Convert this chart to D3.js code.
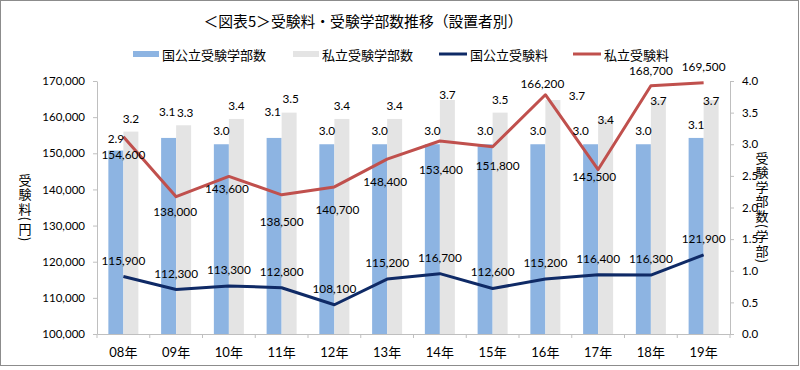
<!DOCTYPE html>
<html>
<head>
<meta charset="utf-8">
<script src="https://cdn.jsdelivr.net/npm/d3@7"></script>
<style>
  body { margin: 0; background: #fff; }
  text { font-family: Lato, "Noto Sans CJK JP", sans-serif; fill: #000; }
  .jp { font-family: "Noto Sans CJK JP", sans-serif; }
</style>
</head>
<body>
<div id="chart"></div>
<script>
// data
var years = ["08年", "09年", "10年", "11年", "12年", "13年", "14年", "15年", "16年", "17年", "18年", "19年"];
var pubCount = [2.9, 3.1, 3.0, 3.1, 3.0, 3.0, 3.0, 3.0, 3.0, 3.0, 3.0, 3.1];
var privCount = [3.2, 3.3, 3.4, 3.5, 3.4, 3.4, 3.7, 3.5, 3.7, 3.4, 3.7, 3.7];
var pubFee = [115900, 112300, 113300, 112800, 108100, 115200, 116700, 112600, 115200, 116400, 116300, 121900];
var privFee = [154600, 138000, 143600, 138500, 140700, 148400, 153400, 151800, 166200, 145500, 168700, 169500];
var feeTicks = [100000, 110000, 120000, 130000, 140000, 150000, 160000, 170000];
var countTicks = [0, 0.5, 1.0, 1.5, 2.0, 2.5, 3.0, 3.5, 4.0];

// label nudges (px), the way they sit in the original
var pubCountDy = [-12, -26, -14, -26, -14, -14, -14, -14, -14, -14, -14, -13];
var pubCountDx = [0, -1.5, 0, -1.5, 0, 0, 0, 0, 0, -10, 0, 0];
var privCountDy = [-13, -13, -13, -14, -13, -13, -5, -13, -4, 1, 1, 1];
var privCountDx = [0, 1.5, 0, 1.5, 0, 0, 0, 0, 24, 0, 0, 0];
var privFeeDy = [18, 15, 12, 27, 23, 22, 29, 19, -11, 7, -15, -16];
var privFeeDx = [0, -1, -2, 0, 3, -2, 1, 5, -3, -4, 0, 0];
var pubFeeDy = -16.5;

var W = 800, H = 370;
var margin = { top: 81, right: 70, bottom: 36, left: 97 },
    width = W - margin.left - margin.right,
    height = H - margin.top - margin.bottom;

var svg = d3.select("#chart").append("svg")
  .attr("width", W).attr("height", H);

// outer frame
svg.append("rect")
  .attr("x", 0.5).attr("y", 0.5).attr("width", 798).attr("height", 365)
  .attr("fill", "#fff").attr("stroke", "#8c8c8c");

svg.append("text").attr("class", "jp")
  .attr("x", 363).attr("y", 20).attr("text-anchor", "middle")
  .attr("dominant-baseline", "central")
  .style("font-size", "14.8px")
  .text("＜図表5＞受験料・受験学部数推移（設置者別）");

var g = svg.append("g")
  .attr("transform", "translate(" + margin.left + "," + margin.top + ")");

var x0 = d3.scaleBand().domain(years).range([0, width])
  .paddingInner(0.431).paddingOuter(0.2155);
var x1 = d3.scaleBand().domain(["pub", "priv"]).range([0, x0.bandwidth()]);
var yL = d3.scaleLinear().domain([100000, 170000]).range([height, 0]);
var yR = d3.scaleLinear().domain([0, 4]).range([height, 0]);
var cx = function(i) { return x0(years[i]) + x0.bandwidth() / 2; };

var axisColor = "#bfbfbf";

// left axis
var la = g.append("g")
  .call(d3.axisLeft(yL).tickValues(feeTicks).tickFormat(d3.format(",")).tickSize(4).tickSizeOuter(0).tickPadding(8));
la.selectAll("text").style("font-size", "11.5px");

// right axis
var ra = g.append("g").attr("transform", "translate(" + width + ",0)")
  .call(d3.axisRight(yR).tickValues(countTicks).tickFormat(d3.format(".1f")).tickSize(4).tickSizeOuter(0).tickPadding(8));
ra.selectAll("text").style("font-size", "11.5px");

// bottom axis, ticks between categories
var xa = g.append("g").attr("transform", "translate(0," + height + ")")
  .call(d3.axisBottom(x0).tickSize(0).tickPadding(14));
xa.selectAll("text").style("font-size", "13px");
xa.selectAll(".tick").each(function(d, i) {
  var s = x0.step();
  d3.select(this).append("line")
    .attr("x1", -s / 2).attr("x2", -s / 2).attr("y1", 0).attr("y2", 4);
  if (i === years.length - 1) {
    d3.select(this).append("line")
      .attr("x1", s / 2).attr("x2", s / 2).attr("y1", 0).attr("y2", 4);
  }
});

[la, ra, xa].forEach(function(a) {
  a.selectAll("path,line").attr("stroke", axisColor);
});

// bars
g.selectAll(".pubBar").data(pubCount).enter().append("rect")
  .attr("x", function(d, i) { return x0(years[i]) + x1("pub"); })
  .attr("y", function(d) { return yR(d); })
  .attr("width", x1.bandwidth())
  .attr("height", function(d) { return height - yR(d); })
  .attr("fill", "#8db4e2");

g.selectAll(".privBar").data(privCount).enter().append("rect")
  .attr("x", function(d, i) { return x0(years[i]) + x1("priv"); })
  .attr("y", function(d) { return yR(d); })
  .attr("width", x1.bandwidth())
  .attr("height", function(d) { return height - yR(d); })
  .attr("fill", "#e4e4e4");

// lines
var line = d3.line().x(function(d, i) { return cx(i); }).y(function(d) { return yL(d); });

g.append("path").datum(privFee)
  .attr("d", line).attr("fill", "none")
  .attr("stroke", "#c0504d").attr("stroke-width", 3)
  .attr("stroke-linejoin", "round");

g.append("path").datum(pubFee)
  .attr("d", line).attr("fill", "none")
  .attr("stroke", "#0f2a66").attr("stroke-width", 3)
  .attr("stroke-linejoin", "round");

// data labels
var fmt = d3.format(",");
function labels(data, xf, yf, tf) {
  g.append("g").selectAll("text").data(data).enter().append("text")
    .attr("x", xf).attr("y", yf)
    .attr("text-anchor", "middle").attr("dominant-baseline", "central")
    .style("font-size", "11.8px")
    .text(tf);
}
labels(pubCount,
  function(d, i) { return x0(years[i]) + x1("pub") + x1.bandwidth() / 2 + pubCountDx[i]; },
  function(d, i) { return yR(d) + pubCountDy[i]; },
  function(d) { return d.toFixed(1); });
labels(privCount,
  function(d, i) { return x0(years[i]) + x1("priv") + x1.bandwidth() / 2 + privCountDx[i]; },
  function(d, i) { return yR(d) + privCountDy[i]; },
  function(d) { return d.toFixed(1); });
labels(privFee,
  function(d, i) { return cx(i) + privFeeDx[i]; },
  function(d, i) { return yL(d) + privFeeDy[i]; },
  fmt);
labels(pubFee,
  function(d, i) { return cx(i); },
  function(d) { return yL(d) + pubFeeDy; },
  fmt);

// axis titles, written top to bottom
svg.append("text").attr("class", "jp")
  .attr("x", 25).attr("y", 208)
  .attr("text-anchor", "middle")
  .style("writing-mode", "vertical-rl")
  .style("letter-spacing", "1.5px")
  .style("font-size", "13px")
  .text("受験料(円)");

svg.append("text").attr("class", "jp")
  .attr("x", 762).attr("y", 208)
  .attr("text-anchor", "middle")
  .style("writing-mode", "vertical-rl")
  .style("letter-spacing", "1.5px")
  .style("font-size", "13px")
  .text("受験学部数(学部)");

// legend
var legend = [
  { name: "国公立受験学部数", type: "rect", color: "#8db4e2", x: 133 },
  { name: "私立受験学部数", type: "rect", color: "#e4e4e4", x: 293 },
  { name: "国公立受験料", type: "line", color: "#0f2a66", x: 439 },
  { name: "私立受験料", type: "line", color: "#c0504d", x: 573 }
];
var lg = svg.append("g").selectAll("g").data(legend).enter().append("g")
  .attr("transform", function(d) { return "translate(" + d.x + ",54)"; });
lg.filter(function(d) { return d.type === "rect"; }).append("rect")
  .attr("x", 0).attr("y", -3).attr("width", 26).attr("height", 6)
  .attr("fill", function(d) { return d.color; });
lg.filter(function(d) { return d.type === "line"; }).append("line")
  .attr("x1", 0).attr("x2", 28).attr("y1", 0).attr("y2", 0)
  .attr("stroke", function(d) { return d.color; }).attr("stroke-width", 3);
lg.append("text").attr("class", "jp")
  .attr("x", function(d) { return d.type === "rect" ? 29 : 31; })
  .attr("y", 0).attr("dominant-baseline", "central")
  .style("font-size", "13px")
  .text(function(d) { return d.name; });
</script>
</body>
</html>
